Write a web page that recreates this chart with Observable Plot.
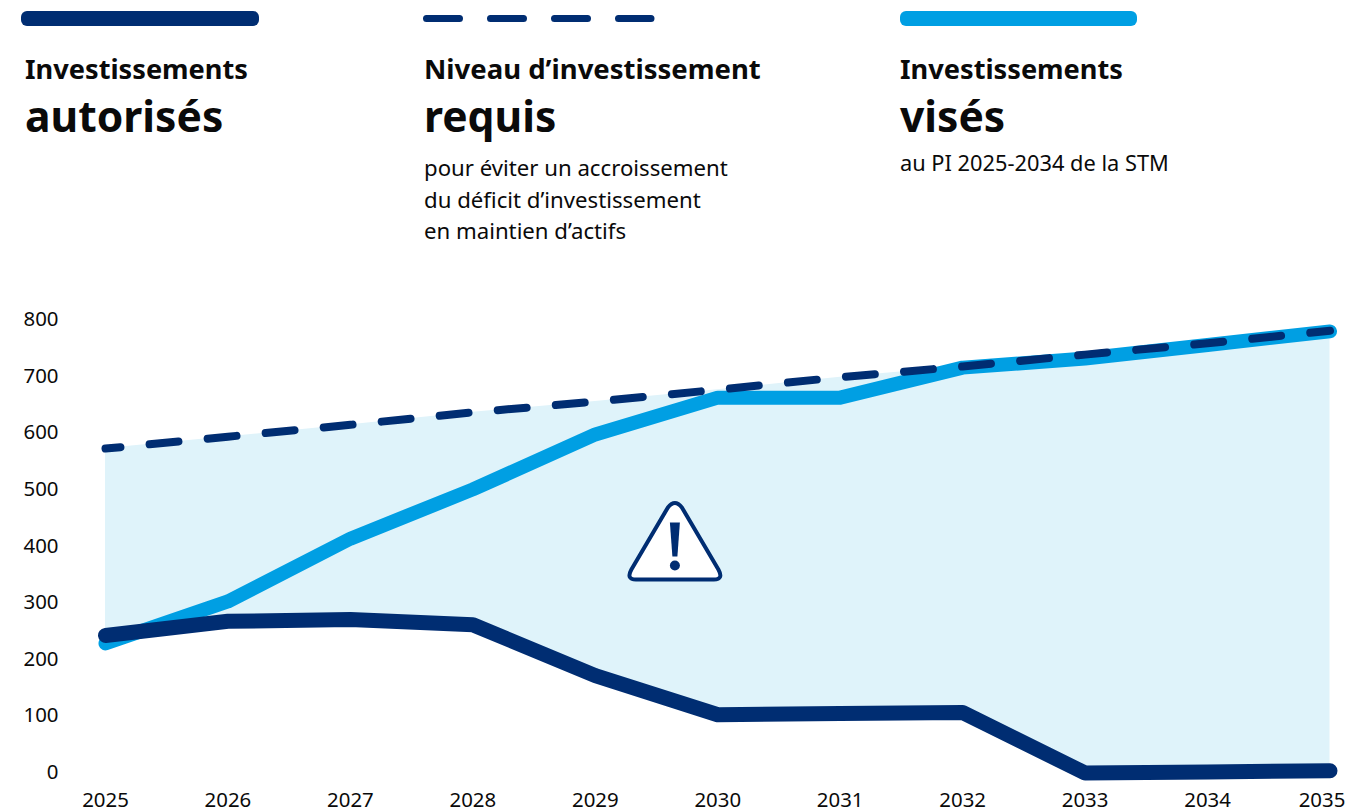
<!DOCTYPE html>
<html lang="fr"><head><meta charset="utf-8">
<script src="https://cdn.jsdelivr.net/npm/d3@7"></script>
<script src="https://cdn.jsdelivr.net/npm/@observablehq/plot@0.6"></script>
<style>
html,body{margin:0;padding:0;background:#fff;overflow:hidden}
body{width:1349px;height:811px;position:relative;font-family:"Noto Sans",sans-serif;color:#0a0a0a}
#legend{position:relative;height:290px;width:1349px}
.sw{position:absolute;top:11px;height:15px;border-radius:6px}
.t{position:absolute;white-space:nowrap}
.b1{font-weight:700;font-size:27.2px;top:50px;line-height:37px}
.b2{font-weight:700;font-size:42.6px;top:88px;line-height:54px}
.s{font-size:22.2px;line-height:31.5px}
svg{display:block}
</style></head><body>
<div id="legend">
<div class="sw" style="left:21px;width:238px;background:#002d72"></div>
<svg id="dash" width="240" height="10" style="position:absolute;left:420px;top:14px"><line x1="6.5" x2="231" y1="4.5" y2="4.5" stroke="#002d72" stroke-width="7" stroke-linecap="round" stroke-dasharray="33 31"/></svg>
<div class="sw" style="left:900px;width:237px;background:#009fe3"></div>
<div class="t b1" style="left:25px">Investissements</div>
<div class="t b2" style="left:25px">autorisés</div>
<div class="t b1" style="left:424px;font-size:27.5px">Niveau d’investissement</div>
<div class="t b2" style="left:424px">requis</div>
<div class="t s" style="left:424px;top:152px">pour éviter un accroissement<br>du déficit d’investissement<br>en maintien d’actifs</div>
<div class="t b1" style="left:900px">Investissements</div>
<div class="t b2" style="left:900px">visés</div>
<div class="t s" style="left:900px;top:147px;font-size:21.8px">au PI 2025-2034 de la STM</div>
</div>
<div id="chart"></div>
<script>
const years = [2025,2026,2027,2028,2029,2030,2031,2032,2033,2034,2035];
const autorises = [242,267,270,261,171,102,104,106,-1,1,3];
const requis = [572,593,614,636,655,676,698,717,738,758,780];
const vises = [228,302,413,500,597,662,662,715,731,755,779];
const yTicks = [0,100,200,300,400,500,600,700,800];
const iconX = [2029.65];
const iconY = [408];
const navy = "#002d72", sky = "#009fe3", pale = "#dff3fa";
const rows = years.map((x,i)=>({x,a:autorises[i],r:requis[i],v:vises[i]}));
const icon = "data:image/svg+xml," + encodeURIComponent(`<svg xmlns="http://www.w3.org/2000/svg" viewBox="0 0 100 100"><path d="M43 16Q50 7 57 16L93.500 78Q99 88 89 88L11 88Q1 88 6.500 78Z" fill="#fff" stroke="${navy}" stroke-width="4" stroke-linejoin="round"/><path d="M45 31H55L52.500 65H47.500Z" fill="${navy}"/><circle cx="50" cy="74" r="5" fill="${navy}"/></svg>`);
const lineOpts = {x:"x",strokeLinecap:"round",strokeLinejoin:"round"};
const plot = Plot.plot({
  width:1349,height:521,marginTop:29,marginBottom:39,marginLeft:105,marginRight:19.5,
  style:{fontFamily:'"Noto Sans",sans-serif',fontSize:"20.4px",color:"#0a0a0a",background:"#fff",overflow:"visible"},
  x:{domain:[2025,2035],label:null},
  y:{domain:[0,800],label:null},
  marks:[
    Plot.areaY(rows,{x:"x",y1:"a",y2:"r",fill:pale}),
    Plot.line(rows,{...lineOpts,y:"v",stroke:sky,strokeWidth:14}),
    Plot.line(rows,{...lineOpts,y:"a",stroke:navy,strokeWidth:15}),
    Plot.line(rows,{...lineOpts,y:"r",stroke:navy,strokeWidth:8,strokeDasharray:"29 29.3",strokeDashoffset:14}),
    Plot.image(iconX.map((x,i)=>({x,y:iconY[i]})),{x:"x",y:"y",src:()=>icon,width:100,height:100}),
    Plot.axisY({ticks:yTicks,tickSize:0,tickPadding:47,label:null,tickFormat:"d"}),
    Plot.axisX({ticks:years.slice(0,-1),tickSize:0,tickPadding:20,label:null,tickFormat:"d"}),
    Plot.axisX({ticks:years.slice(-1),tickSize:0,tickPadding:20,label:null,tickFormat:"d",dx:-8})
  ]
});
document.getElementById("chart").appendChild(plot);
</script>
</body></html>
